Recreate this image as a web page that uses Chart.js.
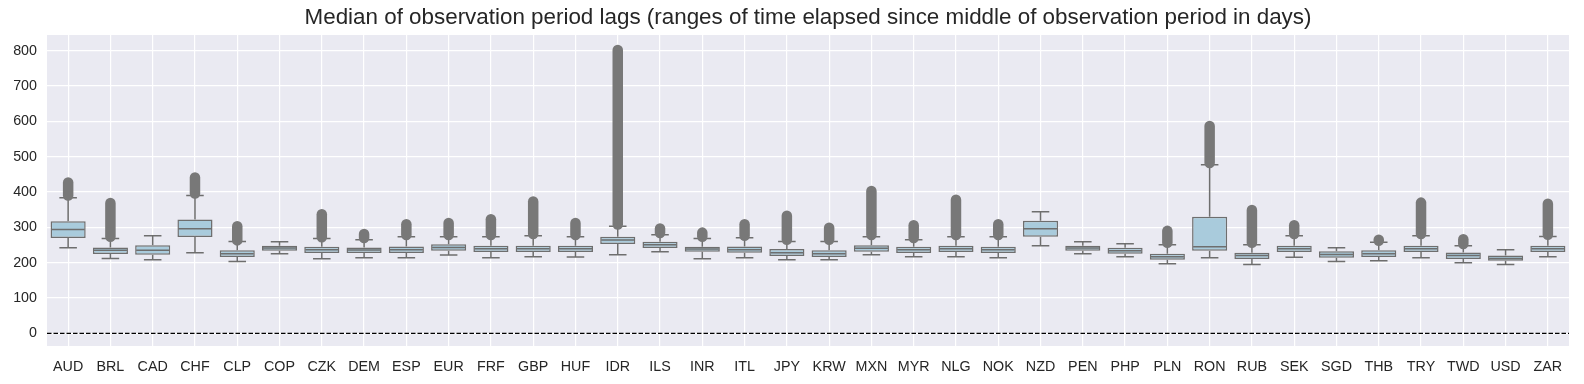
<!DOCTYPE html>
<html lang="en">
<head>
    <meta charset="UTF-8">
    <title>Median of observation period lags</title>
    <script src="https://cdn.jsdelivr.net/npm/chart.js"></script>
    <style>
        html, body { margin: 0; padding: 0; background: #ffffff; }
        #wrap { width: 1584px; height: 384px; }
    </style>
</head>
<body>
    <div id="wrap"><canvas id="lagChart" width="1584" height="384"></canvas></div>

    <script>
        // box plot stats per currency (days)
        const currencies = ['AUD', 'BRL', 'CAD', 'CHF', 'CLP', 'COP', 'CZK', 'DEM', 'ESP', 'EUR', 'FRF', 'GBP', 'HUF',
            'IDR', 'ILS', 'INR', 'ITL', 'JPY', 'KRW', 'MXN', 'MYR', 'NLG', 'NOK', 'NZD', 'PEN', 'PHP', 'PLN', 'RON',
            'RUB', 'SEK', 'SGD', 'THB', 'TRY', 'TWD', 'USD', 'ZAR'];
        const q1 = [270, 224.5, 222, 272.5, 216, 234, 227, 227, 227, 234, 230, 230, 230,
            252.5, 241.5, 231, 228, 219, 216, 231, 227, 230, 227, 273.5, 234, 225.5, 208.5, 234,
            210, 230, 214, 216, 230, 210, 205.5, 230];
        const median = [294, 235, 235, 296, 225, 241.5, 236.5, 235.5, 236.5, 243, 239.5, 239.5, 239.5,
            264, 251, 238.5, 236.5, 228, 225.5, 240.5, 236.5, 239.5, 236.5, 296, 241.5, 234, 217, 245,
            220, 239.5, 223, 225.5, 239.5, 220, 212, 239.5];
        const q3 = [317, 243, 249, 322, 235, 248, 245, 243, 246, 252, 248, 248, 248,
            273, 259, 245, 246, 238.5, 235, 249, 245, 248, 245, 318.5, 248, 242.5, 225.5, 330,
            228, 248, 232, 235, 248, 229, 220, 248];
        const whiskerLow = [242, 212, 208.5, 228, 203, 225.5, 211, 214, 214, 221.5, 214, 217, 216,
            222.5, 231, 211, 214, 208.5, 208.5, 222.5, 217, 217, 214, 248, 225.5, 217, 197, 214,
            194.5, 215, 203, 205.5, 214, 200, 194.5, 217];
        const whiskerHigh = [384, 268, 276, 390, 260, 259, 268, 265, 273, 273, 273, 276, 273,
            303, 279, 268, 270.5, 260, 260, 273, 265, 273, 273, 344, 259, 253.5, 251, 477,
            251, 276, 242.5, 257.5, 276, 248, 236.5, 274];
        // outliers pile up into solid columns: lowest and highest flier
        const flierLow = [390, 273, null, 396, 263, null, 272, 270, 278, 278, 278, 281, 278,
            308, 284, 273, 276, 265, 265, 278, 270, 278, 278, null, null, null, 256, 482,
            256, 281, null, 262, 281, 253, null, 279];
        const flierHigh = [427, 369, null, 441, 303, null, 337, 281, 309, 312, 323, 373, 312,
            802, 297, 285, 309, 333, 299, 403, 306, 378, 309, null, null, null, 290, 587,
            349, 306, null, 265, 370, 266, null, 367];
        const yTicks = [0, 100, 200, 300, 400, 500, 600, 700, 800];

        const titleText = 'Median of observation period lags (ranges of time elapsed since middle of observation period in days)';
        const lineGrey = '#6e6e6e';
        const flierGrey = '#787878';
        const textColor = '#262626';
        const fontFamily = 'Arial, "Liberation Sans", Helvetica, sans-serif';

        const boxExtras = {
            id: 'boxExtras',
            beforeDraw(chart) {
                const a = chart.chartArea;
                const ctx = chart.ctx;
                ctx.save();
                ctx.fillStyle = '#eaeaf2';
                ctx.fillRect(a.left, a.top, a.right - a.left, a.bottom - a.top);
                ctx.restore();
            },
            beforeDatasetsDraw(chart) {
                const ctx = chart.ctx;
                const x = chart.scales.x;
                const y = chart.scales.y;
                const a = chart.chartArea;
                const bars = chart.getDatasetMeta(0).data;

                // reference line at zero
                ctx.save();
                ctx.strokeStyle = '#000000';
                ctx.lineWidth = 1.2;
                ctx.setLineDash([4.5, 2]);
                ctx.beginPath();
                ctx.moveTo(a.left, y.getPixelForValue(0));
                ctx.lineTo(a.right, y.getPixelForValue(0));
                ctx.stroke();
                ctx.restore();

                ctx.save();
                currencies.forEach((c, i) => {
                    const cx = x.getPixelForValue(i);
                    const half = bars[i].width / 4;

                    // whiskers and caps
                    ctx.strokeStyle = lineGrey;
                    ctx.lineWidth = 1.5;
                    ctx.lineCap = 'butt';
                    ctx.beginPath();
                    ctx.moveTo(cx, y.getPixelForValue(q3[i]));
                    ctx.lineTo(cx, y.getPixelForValue(whiskerHigh[i]));
                    ctx.moveTo(cx, y.getPixelForValue(q1[i]));
                    ctx.lineTo(cx, y.getPixelForValue(whiskerLow[i]));
                    ctx.moveTo(cx - half, y.getPixelForValue(whiskerHigh[i]));
                    ctx.lineTo(cx + half, y.getPixelForValue(whiskerHigh[i]));
                    ctx.moveTo(cx - half, y.getPixelForValue(whiskerLow[i]));
                    ctx.lineTo(cx + half, y.getPixelForValue(whiskerLow[i]));
                    ctx.stroke();

                    // fliers
                    if (flierLow[i] !== null) {
                        ctx.strokeStyle = flierGrey;
                        ctx.lineWidth = 10.5;
                        ctx.lineCap = 'round';
                        ctx.beginPath();
                        ctx.moveTo(cx, y.getPixelForValue(flierLow[i]));
                        ctx.lineTo(cx, y.getPixelForValue(flierHigh[i]));
                        ctx.stroke();
                    }
                });
                ctx.restore();
            },
            afterDatasetsDraw(chart) {
                const ctx = chart.ctx;
                const y = chart.scales.y;
                const bars = chart.getDatasetMeta(0).data;
                ctx.save();
                ctx.strokeStyle = lineGrey;
                ctx.lineWidth = 1.5;
                bars.forEach((bar, i) => {
                    const my = y.getPixelForValue(median[i]);
                    ctx.beginPath();
                    ctx.moveTo(bar.x - bar.width / 2 + 1, my);
                    ctx.lineTo(bar.x + bar.width / 2 - 1, my);
                    ctx.stroke();
                });
                ctx.restore();
            },
            afterDraw(chart) {
                // title centred on the plot area like matplotlib
                const a = chart.chartArea;
                const ctx = chart.ctx;
                ctx.save();
                ctx.fillStyle = textColor;
                ctx.font = '22.4px ' + fontFamily;
                ctx.textAlign = 'center';
                ctx.textBaseline = 'middle';
                ctx.fillText(titleText, (a.left + a.right) / 2, 18);
                ctx.restore();
            }
        };

        new Chart(document.getElementById('lagChart'), {
            type: 'bar',
            data: {
                labels: currencies,
                datasets: [{
                    data: q1.map((v, i) => [v, q3[i]]),
                    backgroundColor: '#a9cbdc',
                    borderColor: lineGrey,
                    borderWidth: 1.5,
                    borderSkipped: false,
                    categoryPercentage: 0.83,
                    barPercentage: 1.0
                }]
            },
            options: {
                responsive: false,
                animation: false,
                layout: { padding: { top: 35, right: 15, bottom: 0, left: 0 } },
                plugins: {
                    legend: { display: false },
                    tooltip: { enabled: false },
                    title: { display: false }
                },
                scales: {
                    x: {
                        offset: true,
                        border: { display: false },
                        grid: { color: '#ffffff', lineWidth: 1.2, offset: false, drawTicks: false },
                        afterFit(scale) { scale.height = 38; },
                        ticks: { color: textColor, font: { family: fontFamily, size: 14.3 }, padding: 12.5, maxRotation: 0, autoSkip: false }
                    },
                    y: {
                        min: -36,
                        max: 844.5,
                        border: { display: false },
                        grid: { color: '#ffffff', lineWidth: 1.2, drawTicks: false },
                        afterFit(scale) { scale.width = 47; },
                        afterBuildTicks(scale) { scale.ticks = yTicks.map(v => ({ value: v })); },
                        ticks: { color: textColor, font: { family: fontFamily, size: 14.3 }, padding: 10 }
                    }
                }
            },
            plugins: [boxExtras]
        });
    </script>
</body>
</html>
